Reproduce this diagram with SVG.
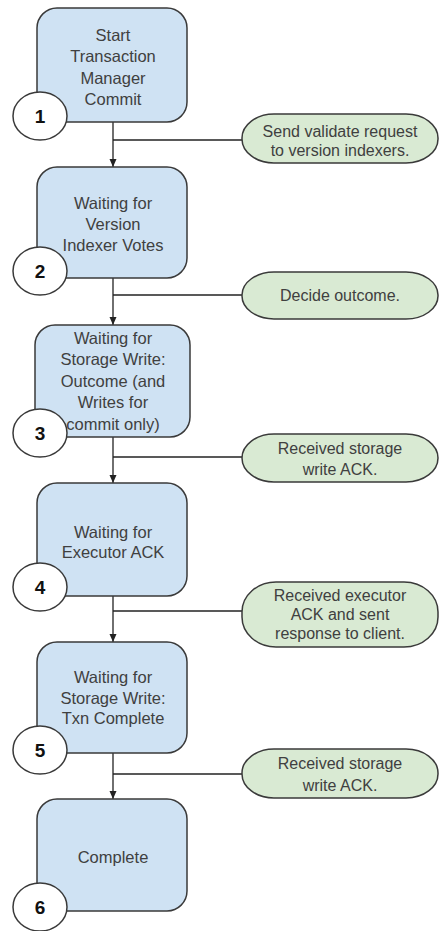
<svg xmlns="http://www.w3.org/2000/svg" width="440" height="931" viewBox="0 0 440 931">
<defs>
<style>
.box{fill:#cfe2f3;stroke:#3a3a3a;stroke-width:1.5}
.pill{fill:#d9ead3;stroke:#3a3a3a;stroke-width:1.5}
.num{fill:#ffffff;stroke:#3a3a3a;stroke-width:1.5}
.t{font-family:"Liberation Sans",Arial,sans-serif;font-size:16.5px;fill:#404040;text-anchor:middle}
.p{font-family:"Liberation Sans",Arial,sans-serif;font-size:16px;fill:#404040;text-anchor:middle}
.n{font-family:"Liberation Sans",Arial,sans-serif;font-size:19px;font-weight:bold;fill:#111111;text-anchor:middle}
.c{stroke:#222222;stroke-width:1.3;fill:none}
</style>
<marker id="arr" viewBox="0 0 8 8" refX="8" refY="4" markerWidth="8" markerHeight="8" markerUnits="userSpaceOnUse" orient="auto">
<path d="M0,0.5 L8,4 L0,7.5 Z" fill="#222222"/>
</marker>
</defs>
<g id="connectors">
<line class="c" x1="113" y1="122" x2="113" y2="167" marker-end="url(#arr)"/>
<line class="c" x1="113" y1="140" x2="242" y2="140"/>
<line class="c" x1="113" y1="278" x2="113" y2="325" marker-end="url(#arr)"/>
<line class="c" x1="113" y1="295" x2="242" y2="295"/>
<line class="c" x1="113" y1="437" x2="113" y2="483" marker-end="url(#arr)"/>
<line class="c" x1="113" y1="457" x2="242" y2="457"/>
<line class="c" x1="113" y1="596" x2="113" y2="642" marker-end="url(#arr)"/>
<line class="c" x1="113" y1="611" x2="242" y2="611"/>
<line class="c" x1="113" y1="753" x2="113" y2="799" marker-end="url(#arr)"/>
<line class="c" x1="113" y1="774" x2="242" y2="774"/>
</g>
<g id="state1">
<rect class="box" x="37" y="8" width="150" height="114" rx="20"/>
<text class="t" x="113" y="41">Start</text>
<text class="t" x="113" y="62">Transaction</text>
<text class="t" x="113" y="84">Manager</text>
<text class="t" x="113" y="105">Commit</text>
<ellipse class="num" cx="40" cy="116" rx="27" ry="24"/>
<text class="n" x="40" y="123">1</text>
</g>
<g id="state2">
<rect class="box" x="37" y="167" width="150" height="111" rx="20"/>
<text class="t" x="113" y="209">Waiting for</text>
<text class="t" x="113" y="230">Version</text>
<text class="t" x="113" y="251">Indexer Votes</text>
<ellipse class="num" cx="40" cy="271" rx="27" ry="24"/>
<text class="n" x="40" y="278">2</text>
</g>
<g id="state3">
<rect class="box" x="35" y="325" width="155" height="112" rx="20"/>
<text class="t" x="113" y="344">Waiting for</text>
<text class="t" x="113" y="365">Storage Write:</text>
<text class="t" x="113" y="387">Outcome (and</text>
<text class="t" x="113" y="408">Writes for</text>
<text class="t" x="113" y="430">commit only)</text>
<ellipse class="num" cx="40" cy="433" rx="27" ry="24"/>
<text class="n" x="40" y="440">3</text>
</g>
<g id="state4">
<rect class="box" x="37" y="483" width="150" height="113" rx="20"/>
<text class="t" x="113" y="538">Waiting for</text>
<text class="t" x="113" y="558">Executor ACK</text>
<ellipse class="num" cx="40" cy="587" rx="27" ry="24"/>
<text class="n" x="40" y="594">4</text>
</g>
<g id="state5">
<rect class="box" x="37" y="642" width="150" height="111" rx="20"/>
<text class="t" x="113" y="683">Waiting for</text>
<text class="t" x="113" y="704">Storage Write:</text>
<text class="t" x="113" y="724">Txn Complete</text>
<ellipse class="num" cx="40" cy="750" rx="27" ry="24"/>
<text class="n" x="40" y="757">5</text>
</g>
<g id="state6">
<rect class="box" x="37" y="799" width="150" height="112" rx="20"/>
<text class="t" x="113" y="863">Complete</text>
<ellipse class="num" cx="40" cy="907" rx="27" ry="24"/>
<text class="n" x="40" y="914">6</text>
</g>
<g id="event1">
<rect class="pill" x="242" y="114" width="196" height="49" rx="32" ry="24"/>
<text class="p" x="340" y="137">Send validate request</text>
<text class="p" x="340" y="156">to version indexers.</text>
</g>
<g id="event2">
<rect class="pill" x="242" y="272" width="196" height="47" rx="32" ry="23"/>
<text class="p" x="340" y="301">Decide outcome.</text>
</g>
<g id="event3">
<rect class="pill" x="242" y="434" width="196" height="48" rx="32" ry="24"/>
<text class="p" x="340" y="454">Received storage</text>
<text class="p" x="340" y="475">write ACK.</text>
</g>
<g id="event4">
<rect class="pill" x="242" y="582" width="196" height="65" rx="34" ry="30"/>
<text class="p" x="340" y="601">Received executor</text>
<text class="p" x="340" y="620">ACK and sent</text>
<text class="p" x="340" y="639">response to client.</text>
</g>
<g id="event5">
<rect class="pill" x="242" y="749" width="196" height="49" rx="32" ry="24"/>
<text class="p" x="340" y="769">Received storage</text>
<text class="p" x="340" y="791">write ACK.</text>
</g>
</svg>
